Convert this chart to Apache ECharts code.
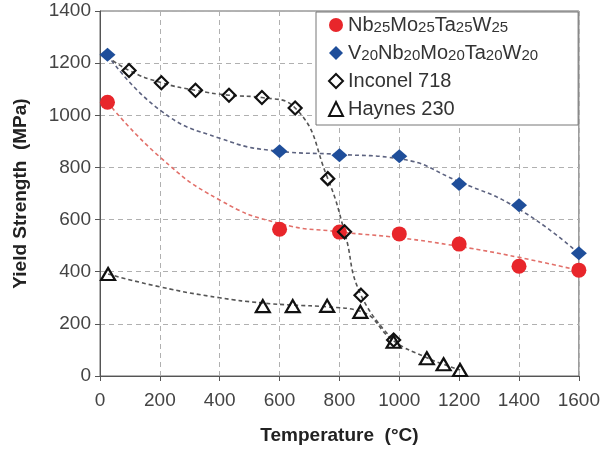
<!DOCTYPE html>
<html><head><meta charset="utf-8">
<script src="https://cdn.jsdelivr.net/npm/echarts@6/dist/echarts.min.js"></script>
<style>html,body{margin:0;padding:0;background:#fff}#c{width:603px;height:455px}</style>
</head><body><div id="c"></div>
<script>
// Measured points
const nbT = [25, 600, 800, 1000, 1200, 1400, 1600];
const nbV = [1050, 563, 552, 545, 506, 421, 406];
const vT = [25, 600, 800, 1000, 1200, 1400, 1600];
const vV = [1232, 862, 847, 843, 736, 655, 471];
const inT = [97, 205, 319, 431, 541, 652, 761, 817, 872, 981];
const inV = [1172, 1125, 1096, 1077, 1068, 1028, 757, 553, 310, 138];
const haT = [27, 544, 644, 759, 870, 981, 1092, 1148, 1203];
const haV = [391, 268, 268, 269, 246, 131, 68, 45, 23];
// Dashed trend curves
const nbCurveT = [25, 200, 400, 600, 800, 1000, 1200, 1400, 1600];
const nbCurveV = [1050, 840, 675, 585, 553, 530, 497, 455, 405];
const vCurveT = [25, 200, 400, 600, 800, 1000, 1200, 1400, 1600];
const vCurveV = [1232, 1020, 912, 862, 850, 833, 745, 640, 470];
const inCurveT = [25, 97, 205, 319, 431, 541, 652, 761, 817, 872, 981];
const inCurveV = [1225, 1172, 1125, 1096, 1077, 1068, 1028, 757, 553, 310, 138];
const haCurveT = [27, 200, 400, 544, 644, 759, 870, 981, 1092, 1148, 1203];
const haCurveV = [391, 342, 300, 280, 272, 265, 248, 135, 70, 45, 23];
// Names and legend labels
const seriesNames = ['Nb25Mo25Ta25W25', 'V20Nb20Mo20Ta20W20', 'Inconel 718', 'Haynes 230'];
const legendLabels = ['Nb{s|25}Mo{s|25}Ta{s|25}W{s|25}', 'V{s|20}Nb{s|20}Mo{s|20}Ta{s|20}W{s|20}', 'Inconel 718', 'Haynes 230'];
const xName = 'Temperature  (°C)';
const yName = 'Yield Strength  (MPa)';

const FONT = '"Liberation Sans", Arial, Helvetica, sans-serif';
const pairs = (t, v) => t.map((x, i) => [x, v[i]]);

function curve(name, t, v, color) {
  return {
    type: 'line', name: name, data: pairs(t, v), symbol: 'none', smooth: 0.5,
    silent: true, z: 2, lineStyle: { type: [4, 3], width: 1.6, color: color }
  };
}

const chart = echarts.init(document.getElementById('c'), null, { renderer: 'canvas' });
chart.setOption({
  animation: false,
  backgroundColor: '#fff',
  grid: { left: 100, right: 24, top: 11, bottom: 79, show: true, borderColor: '#666', borderWidth: 1 },
  legend: {
    data: seriesNames, orient: 'vertical', left: 316, top: 12,
    padding: [3, 40, 6, 12], itemGap: 8, itemWidth: 14, itemHeight: 14,
    backgroundColor: '#fff', borderColor: '#777', borderWidth: 1,
    formatter: n => legendLabels[seriesNames.indexOf(n)],
    textStyle: {
      fontFamily: FONT, fontSize: 20, color: '#333', lineHeight: 20,
      rich: { s: { fontFamily: FONT, fontSize: 15, color: '#333', lineHeight: 8, verticalAlign: 'bottom' } }
    }
  },
  xAxis: {
    type: 'value', min: 0, max: 1600, interval: 200,
    name: xName, nameLocation: 'middle', nameGap: 50,
    nameTextStyle: { fontFamily: FONT, fontWeight: 'bold', fontSize: 19, color: '#222' },
    axisLine: { show: true, lineStyle: { color: '#555', width: 1 } },
    axisTick: { show: true, length: 5, lineStyle: { color: '#555' } },
    axisLabel: { fontFamily: FONT, fontSize: 19, color: '#444', margin: 15, formatter: v => String(v) },
    splitLine: { show: true, lineStyle: { type: [5, 4], color: '#b0b0b0', width: 1 } }
  },
  yAxis: {
    type: 'value', min: 0, max: 1400, interval: 200,
    name: yName, nameLocation: 'middle', nameGap: 70, nameRotate: 90,
    nameTextStyle: { fontFamily: FONT, fontWeight: 'bold', fontSize: 19, color: '#222' },
    axisLine: { show: true, lineStyle: { color: '#555', width: 1 } },
    axisTick: { show: true, length: 5, lineStyle: { color: '#555' } },
    axisLabel: { fontFamily: FONT, fontSize: 19, color: '#444', margin: 9, formatter: v => String(v) },
    splitLine: { show: true, lineStyle: { type: [5, 4], color: '#b0b0b0', width: 1 } }
  },
  series: [
    curve('c1', nbCurveT, nbCurveV, '#e2706a'),
    curve('c2', vCurveT, vCurveV, '#5d6380'),
    curve('c3', inCurveT, inCurveV, '#555'),
    curve('c4', haCurveT, haCurveV, '#555'),
    { type: 'scatter', name: seriesNames[0], data: pairs(nbT, nbV), symbol: 'circle', symbolSize: 15, z: 4,
      itemStyle: { color: '#e8262b', opacity: 1 } },
    { type: 'scatter', name: seriesNames[1], data: pairs(vT, vV), symbol: 'diamond', symbolSize: [16, 14], z: 4,
      itemStyle: { color: '#1f4e9a', opacity: 1 } },
    { type: 'scatter', name: seriesNames[2], data: pairs(inT, inV), symbol: 'diamond', symbolSize: [13, 13], z: 5,
      itemStyle: { color: 'rgba(255,255,255,0)', borderColor: '#111', borderWidth: 2.2, opacity: 1 } },
    { type: 'scatter', name: seriesNames[3], data: pairs(haT, haV), symbol: 'triangle', symbolSize: [14, 12], z: 5,
      itemStyle: { color: 'rgba(255,255,255,0)', borderColor: '#111', borderWidth: 2.2, opacity: 1 } }
  ]
});
</script>
</body></html>
